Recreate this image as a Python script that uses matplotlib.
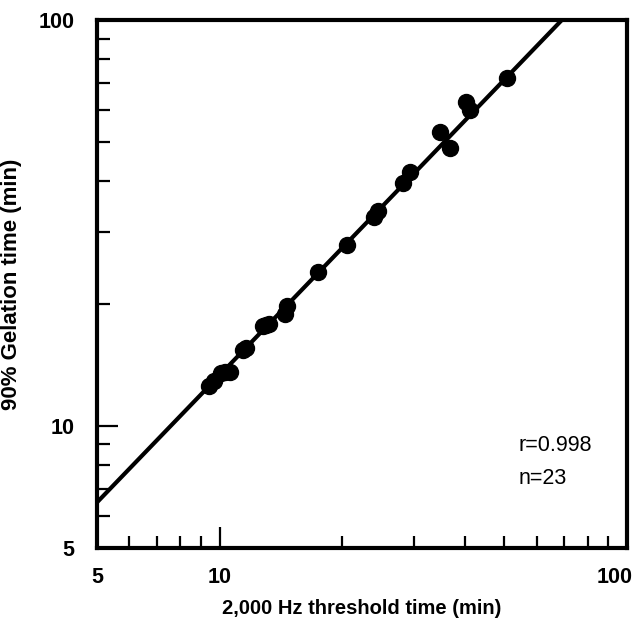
import matplotlib.pyplot as plt
from matplotlib.ticker import FixedLocator, NullFormatter
from matplotlib.transforms import ScaledTranslation

# 2,000 Hz threshold time vs 90% gelation time (min)
threshold_time = [9.4, 9.7, 10.1, 10.3, 10.6, 11.4, 11.6, 12.8, 13.2, 14.5, 14.6,
                  17.4, 20.5, 23.9, 24.5, 28.2, 29.3, 34.7, 36.8, 40.3, 41.2, 50.7, 13.0]
gelation_time = [12.5, 12.9, 13.5, 13.6, 13.6, 15.4, 15.5, 17.6, 17.8, 18.9, 19.7,
                 23.9, 27.9, 32.7, 33.8, 39.7, 42.2, 52.9, 48.4, 62.8, 60.0, 72.0, 17.7]

# regression line end points
fit_x = [4.5, 69.2]
fit_y = [5.8, 100]

tick_values = [5, 10, 100]
tick_labels = ['5', '10', '100']

fig = plt.figure(figsize=(6.34, 6.24), dpi=100)
ax = fig.add_axes([0.153, 0.122, 0.836, 0.846])

ax.plot(fit_x, fit_y, color='black', lw=3, solid_capstyle='butt')
ax.plot(threshold_time, gelation_time, 'o', color='black', ms=11.5)

ax.set_xscale('log')
ax.set_yscale('log')
ax.set_xlim(5, 100)
ax.set_ylim(5, 100)

for axis in (ax.xaxis, ax.yaxis):
    axis.set_minor_locator(FixedLocator([6, 7, 8, 9, 20, 30, 40, 50, 60, 70, 80, 90]))
    axis.set_minor_formatter(NullFormatter())

ax.set_xticks(tick_values)
ax.set_xticklabels(tick_labels)
ax.set_yticks(tick_values)
ax.set_yticklabels(tick_labels)

ax.tick_params(which='both', direction='in', width=1.6, top=False, right=False)
ax.tick_params(which='major', length=15, labelsize=15.5)
ax.tick_params(axis='x', which='major', pad=14)
ax.tick_params(axis='y', which='major', pad=16)
ax.tick_params(which='minor', length=9)
for t in ax.get_xticklabels() + ax.get_yticklabels():
    t.set_fontfamily('Liberation Sans')
    t.set_fontweight('bold')
# the "100" on x sits left of its tick so it stays inside the picture
last = ax.get_xticklabels()[-1]
last.set_transform(last.get_transform() + ScaledTranslation(-0.12, 0, fig.dpi_scale_trans))

for s in ax.spines.values():
    s.set_linewidth(3)

ax.set_xlabel('2,000 Hz threshold time (min)', fontsize=14.5, fontweight='bold',
              family='Liberation Sans', labelpad=8)
ax.set_ylabel('90% Gelation time (min)', fontsize=16, fontweight='bold',
              family='Liberation Sans', labelpad=12)

ax.text(0.795, 0.194, 'r=0.998', transform=ax.transAxes, fontsize=15.5,
        family='Liberation Sans', va='center')
ax.text(0.795, 0.132, 'n=23', transform=ax.transAxes, fontsize=15.5,
        family='Liberation Sans', va='center')

fig.savefig('out.png', dpi=100)
